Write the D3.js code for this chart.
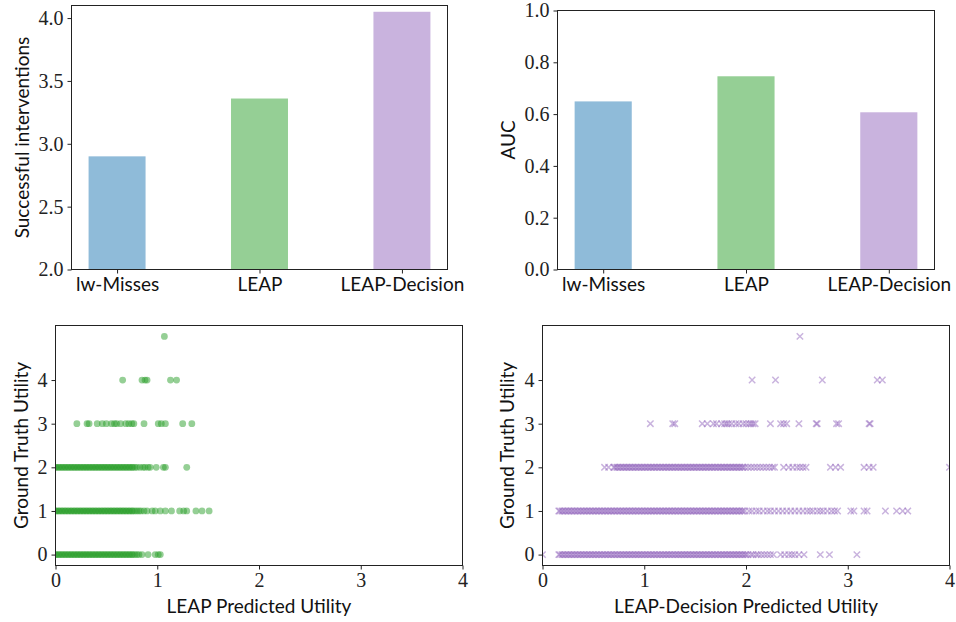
<!DOCTYPE html>
<html>
<head>
<meta charset="utf-8">
<script src="https://cdn.jsdelivr.net/npm/d3@7"></script>
<style>
  body { margin: 0; background: #fff; }
  .num text { font-family: "Liberation Serif", serif; font-size: 20px; fill: #222; }
  .cat text { font-family: Lato, sans-serif; font-size: 19px; fill: #111; }
  .lbl { font-family: Lato, sans-serif; font-size: 19px; fill: #111; }
  .domain { display: none; }
  .tick line { stroke: #222; }
</style>
</head>
<body>
<svg id="chart" width="956" height="622"></svg>
<script>
// bar charts
var methods = ["lw-Misses", "LEAP", "LEAP-Decision"];
var barColors = ["#1f77b4", "#2ca02c", "#9467bd"];
var interventions = [2.90, 3.36, 4.05];
var auc = [0.649, 0.746, 0.607];

// LEAP scatter: predicted utility for each ground truth level
var leapY0 = [0.00,0.01,0.03,0.04,0.06,0.07,0.09,0.10,0.12,0.13,0.15,0.16,0.18,0.19,0.21,0.22,0.24,0.25,0.27,0.28,0.30,0.31,0.33,0.34,0.36,0.37,0.39,0.40,0.42,0.43,0.45,0.46,0.48,0.49,0.51,0.52,0.54,0.55,0.57,0.58,0.60,0.61,0.63,0.64,0.66,0.67,0.69,0.70,0.72,0.73,0.75,0.76,0.78,0.80,0.82,0.85,0.91,0.98,1.01,1.03];
var leapY1 = [0.00,0.01,0.03,0.04,0.06,0.07,0.09,0.10,0.12,0.13,0.15,0.16,0.18,0.19,0.21,0.22,0.24,0.25,0.27,0.28,0.30,0.31,0.33,0.34,0.36,0.37,0.39,0.40,0.42,0.43,0.45,0.46,0.48,0.49,0.51,0.52,0.54,0.55,0.57,0.58,0.60,0.61,0.63,0.64,0.66,0.67,0.69,0.70,0.72,0.73,0.75,0.76,0.78,0.80,0.82,0.84,0.87,0.90,0.95,0.98,1.03,1.08,1.14,1.22,1.26,1.29,1.38,1.44,1.51];
var leapY2 = [0.00,0.01,0.03,0.04,0.06,0.07,0.09,0.10,0.12,0.13,0.15,0.16,0.18,0.19,0.21,0.22,0.24,0.25,0.27,0.28,0.30,0.31,0.33,0.34,0.36,0.37,0.39,0.40,0.42,0.43,0.45,0.46,0.48,0.49,0.51,0.52,0.54,0.55,0.57,0.58,0.60,0.61,0.63,0.64,0.66,0.67,0.69,0.70,0.72,0.73,0.75,0.76,0.78,0.80,0.83,0.86,0.88,0.91,0.93,0.99,1.06,1.08,1.29];
var leapY3 = [0.21,0.31,0.33,0.41,0.46,0.50,0.55,0.58,0.60,0.64,0.69,0.72,0.75,0.77,0.87,1.01,1.04,1.08,1.25,1.34];
var leapY4 = [0.66,0.85,0.88,0.90,1.13,1.19];
var leapY5 = [1.07];

// LEAP-Decision scatter
var decY0 = [0.00,0.16,0.17,0.19,0.20,0.22,0.23,0.25,0.26,0.28,0.29,0.31,0.32,0.34,0.35,0.37,0.38,0.40,0.41,0.43,0.44,0.46,0.47,0.49,0.50,0.52,0.53,0.55,0.56,0.58,0.59,0.61,0.62,0.64,0.65,0.67,0.68,0.70,0.71,0.73,0.74,0.76,0.77,0.79,0.80,0.82,0.83,0.85,0.86,0.88,0.89,0.91,0.92,0.94,0.95,0.97,0.98,1.00,1.01,1.03,1.04,1.06,1.07,1.09,1.10,1.12,1.13,1.15,1.16,1.18,1.19,1.21,1.22,1.24,1.25,1.27,1.28,1.30,1.31,1.33,1.34,1.36,1.37,1.39,1.40,1.42,1.43,1.45,1.46,1.48,1.49,1.51,1.52,1.54,1.55,1.57,1.58,1.60,1.61,1.63,1.64,1.66,1.67,1.69,1.70,1.72,1.73,1.75,1.76,1.78,1.79,1.81,1.82,1.84,1.85,1.87,1.88,1.90,1.91,1.93,1.94,1.96,1.97,1.99,2.00,2.02,2.05,2.07,2.10,2.12,2.15,2.18,2.21,2.24,2.27,2.34,2.38,2.42,2.45,2.48,2.52,2.57,2.73,2.82,3.09];
var decY1 = [0.16,0.17,0.19,0.20,0.22,0.23,0.25,0.26,0.28,0.29,0.31,0.32,0.34,0.35,0.37,0.38,0.40,0.41,0.43,0.44,0.46,0.47,0.49,0.50,0.52,0.53,0.55,0.56,0.58,0.59,0.61,0.62,0.64,0.65,0.67,0.68,0.70,0.71,0.73,0.74,0.76,0.77,0.79,0.80,0.82,0.83,0.85,0.86,0.88,0.89,0.91,0.92,0.94,0.95,0.97,0.98,1.00,1.01,1.03,1.04,1.06,1.07,1.09,1.10,1.12,1.13,1.15,1.16,1.18,1.19,1.21,1.22,1.24,1.25,1.27,1.28,1.30,1.31,1.33,1.34,1.36,1.37,1.39,1.40,1.42,1.43,1.45,1.46,1.48,1.49,1.51,1.52,1.54,1.55,1.57,1.58,1.60,1.61,1.63,1.64,1.66,1.67,1.69,1.70,1.72,1.73,1.75,1.76,1.78,1.79,1.81,1.82,1.84,1.85,1.87,1.88,1.90,1.91,1.93,1.94,1.96,1.97,1.99,2.03,2.06,2.10,2.13,2.17,2.21,2.24,2.28,2.32,2.36,2.40,2.44,2.48,2.52,2.56,2.60,2.63,2.66,2.70,2.73,2.76,2.80,2.84,2.87,2.90,3.03,3.06,3.16,3.19,3.37,3.48,3.54,3.59];
var decY2 = [0.61,0.65,0.70,0.71,0.73,0.74,0.76,0.77,0.79,0.80,0.82,0.83,0.85,0.86,0.88,0.89,0.91,0.92,0.94,0.95,0.97,0.98,1.00,1.01,1.03,1.04,1.06,1.07,1.09,1.10,1.12,1.13,1.15,1.16,1.18,1.19,1.21,1.22,1.24,1.25,1.27,1.28,1.30,1.31,1.33,1.34,1.36,1.37,1.39,1.40,1.42,1.43,1.45,1.46,1.48,1.49,1.51,1.52,1.54,1.55,1.57,1.58,1.60,1.61,1.63,1.64,1.66,1.67,1.69,1.70,1.72,1.73,1.75,1.76,1.78,1.79,1.81,1.82,1.84,1.85,1.87,1.88,1.90,1.91,1.93,1.94,1.96,1.97,1.99,2.02,2.05,2.08,2.11,2.14,2.17,2.20,2.23,2.26,2.28,2.37,2.42,2.46,2.50,2.53,2.56,2.59,2.83,2.88,2.93,3.16,3.21,3.25,4.00];
var decY3 = [1.06,1.28,1.30,1.57,1.62,1.68,1.71,1.76,1.79,1.81,1.83,1.86,1.90,1.93,1.97,2.00,2.03,2.05,2.07,2.09,2.24,2.34,2.37,2.40,2.52,2.69,2.70,2.89,2.91,3.21,3.22];
var decY4 = [2.06,2.29,2.75,3.29,3.34];
var decY5 = [2.53];

var leapRows = [leapY0, leapY1, leapY2, leapY3, leapY4, leapY5];
var decRows = [decY0, decY1, decY2, decY3, decY4, decY5];

var svg = d3.select("#chart");

function frame(g, w, h) {
    g.append("rect")
        .attr("width", w).attr("height", h)
        .attr("fill", "none").attr("stroke", "#222").attr("stroke-width", 1);
}

function barPanel(left, top, right, bottom, yDomain, yTicks, fmt, values, ylabel, labelX) {
    var w = right - left, h = bottom - top;
    var g = svg.append("g").attr("transform", "translate(" + left + "," + top + ")");
    var x = d3.scaleLinear().domain([-0.32, 2.32]).range([0, w]);
    var y = d3.scaleLinear().domain(yDomain).range([h, 0]);

    g.selectAll("rect.bar").data(values).enter().append("rect")
        .attr("class", "bar")
        .attr("x", function (d, i) { return x(i - 0.2); })
        .attr("width", x(0.4) - x(0))
        .attr("y", function (d) { return y(d); })
        .attr("height", function (d) { return h - y(d); })
        .attr("fill", function (d, i) { return barColors[i]; })
        .attr("fill-opacity", 0.5);

    g.append("g").attr("class", "num")
        .call(d3.axisLeft(y).tickValues(yTicks).tickFormat(d3.format(fmt)).tickSize(4).tickPadding(4));
    g.append("g").attr("class", "cat")
        .attr("transform", "translate(0," + h + ")")
        .call(d3.axisBottom(x).tickValues([0, 1, 2]).tickFormat(function (d) { return methods[d]; }).tickSize(4).tickPadding(4));
    frame(g, w, h);

    svg.append("text").attr("class", "lbl")
        .attr("transform", "translate(" + labelX + "," + (top + h / 2) + ") rotate(-90)")
        .attr("text-anchor", "middle")
        .text(ylabel);
}

function scatterPanel(id, left, top, right, bottom, rows, kind, color, xlabel, labelX) {
    var w = right - left, h = bottom - top;
    var g = svg.append("g").attr("transform", "translate(" + left + "," + top + ")");
    var x = d3.scaleLinear().domain([0, 4]).range([0, w]);
    var y = d3.scaleLinear().domain([-0.25, 5.25]).range([h, 0]);

    svg.append("clipPath").attr("id", id).append("rect").attr("width", w).attr("height", h);
    var pts = [];
    rows.forEach(function (row, level) {
        row.forEach(function (v) { pts.push([v, level]); });
    });
    var marks = g.append("g").attr("clip-path", "url(#" + id + ")");
    if (kind === "circle") {
        marks.selectAll("circle").data(pts).enter().append("circle")
            .attr("cx", function (d) { return x(d[0]); })
            .attr("cy", function (d) { return y(d[1]); })
            .attr("r", 3.4)
            .attr("fill", color).attr("fill-opacity", 0.5);
    } else {
        marks.selectAll("path").data(pts).enter().append("path")
            .attr("d", "M-3.2,-3.2L3.2,3.2M-3.2,3.2L3.2,-3.2")
            .attr("transform", function (d) { return "translate(" + x(d[0]) + "," + y(d[1]) + ")"; })
            .attr("stroke", color).attr("stroke-width", 1.45).attr("stroke-opacity", 0.5)
            .attr("fill", "none");
    }

    g.append("g").attr("class", "num")
        .call(d3.axisLeft(y).tickValues([0, 1, 2, 3, 4]).tickFormat(d3.format("d")).tickSize(4).tickPadding(4));
    g.append("g").attr("class", "num")
        .attr("transform", "translate(0," + h + ")")
        .call(d3.axisBottom(x).tickValues([0, 1, 2, 3, 4]).tickFormat(d3.format("d")).tickSize(4).tickPadding(3));
    frame(g, w, h);

    svg.append("text").attr("class", "lbl")
        .attr("transform", "translate(" + labelX + "," + (top + h / 2) + ") rotate(-90)")
        .attr("text-anchor", "middle")
        .text("Ground Truth Utility");
    svg.append("text").attr("class", "lbl")
        .attr("x", left + w / 2).attr("y", 613)
        .attr("text-anchor", "middle")
        .text(xlabel);
}

barPanel(71.5, 5.5, 447.5, 269.5, [2, 4.1], [2, 2.5, 3, 3.5, 4], ".1f", interventions, "Successful interventions", 29);
barPanel(557.5, 10.5, 934.5, 269.5, [0, 1], [0, 0.2, 0.4, 0.6, 0.8, 1.0], ".1f", auc, "AUC", 515);
scatterPanel("clipA", 55.5, 325.5, 462.5, 565.5, leapRows, "circle", "#2ca02c", "LEAP Predicted Utility", 28);
scatterPanel("clipB", 542.5, 325.5, 949.5, 565.5, decRows, "cross", "#9467bd", "LEAP-Decision Predicted Utility", 514);
</script>
</body>
</html>
